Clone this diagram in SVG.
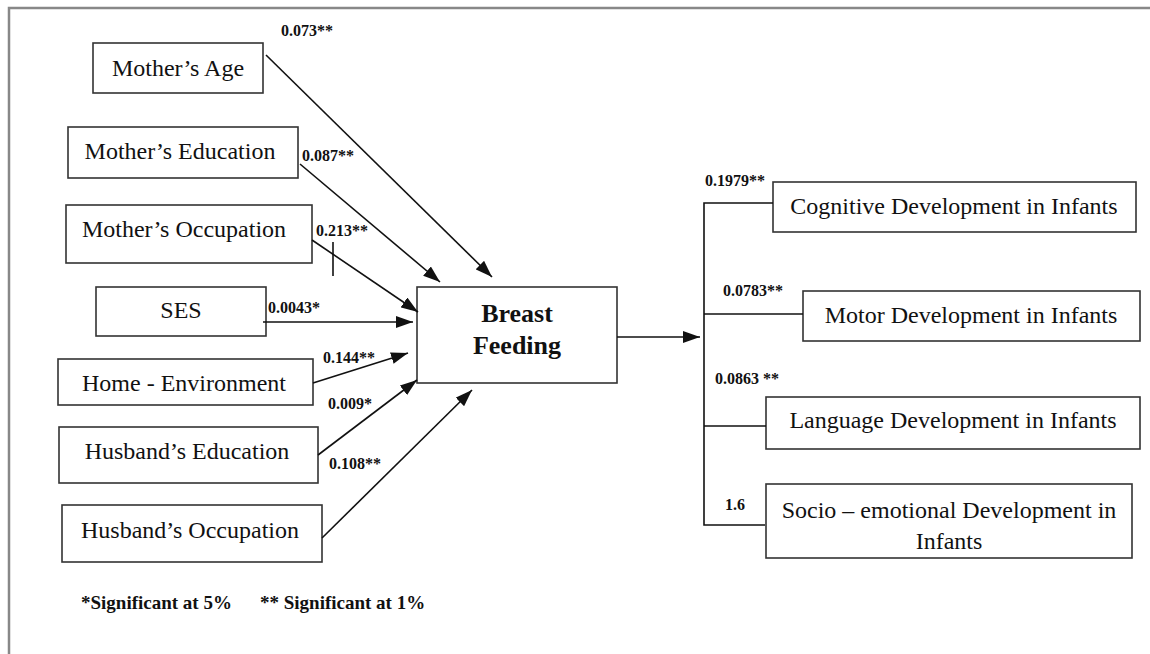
<svg xmlns="http://www.w3.org/2000/svg" width="1150" height="654" viewBox="0 0 1150 654">
<style>
.box{fill:#fff;stroke:#333;stroke-width:1.6}
.t{font-family:"Liberation Serif","Times New Roman",serif;font-size:24px;fill:#111;text-anchor:middle}
.b{font-family:"Liberation Serif","Times New Roman",serif;font-size:26px;font-weight:bold;fill:#111;text-anchor:middle}
.lab{font-family:"Liberation Serif","Times New Roman",serif;font-size:16px;font-weight:bold;fill:#111}
.fn{font-family:"Liberation Serif","Times New Roman",serif;font-size:19px;font-weight:bold;fill:#111}
.c{fill:none;stroke:#111;stroke-width:1.6}
</style>
<defs>
<marker id="ah" viewBox="0 0 10 10" refX="10" refY="5" markerWidth="17" markerHeight="12" markerUnits="userSpaceOnUse" orient="auto" preserveAspectRatio="none">
<path d="M0,0 L10,5 L0,10 z" fill="#111"/>
</marker>
</defs>
<rect width="1150" height="654" fill="#fff"/>
<path d="M9,654 V8 H1150" fill="none" stroke="#888" stroke-width="2.5"/>

<g id="n-mothers-age"><rect class="box" x="93" y="43" width="170" height="50"/><text class="t" x="178" y="76">Mother’s Age</text></g>
<g id="n-mothers-education"><rect class="box" x="68" y="127" width="230" height="51"/><text class="t" x="180" y="159">Mother’s Education</text></g>
<g id="n-mothers-occupation"><rect class="box" x="66" y="205" width="246" height="58"/><text class="t" x="184" y="237">Mother’s Occupation</text></g>
<g id="n-ses"><rect class="box" x="96" y="287" width="170" height="49"/><text class="t" x="181" y="318">SES</text></g>
<g id="n-home"><rect class="box" x="58" y="359" width="255" height="46"/><text class="t" x="184" y="391">Home - Environment</text></g>
<g id="n-husbands-education"><rect class="box" x="59" y="427" width="259" height="56"/><text class="t" x="187" y="459">Husband’s Education</text></g>
<g id="n-husbands-occupation"><rect class="box" x="62" y="505" width="260" height="57"/><text class="t" x="190" y="538">Husband’s Occupation</text></g>

<g id="n-breast-feeding"><rect class="box" x="417" y="287" width="200" height="96"/><text class="b" x="517" y="322">Breast</text><text class="b" x="517" y="354">Feeding</text></g>

<g id="n-cognitive"><rect class="box" x="773" y="182" width="363" height="50"/><text class="t" x="954" y="214">Cognitive Development in Infants</text></g>
<g id="n-motor"><rect class="box" x="803" y="291" width="337" height="50"/><text class="t" x="971" y="323">Motor Development in Infants</text></g>
<g id="n-language"><rect class="box" x="766" y="397" width="374" height="52"/><text class="t" x="953" y="428">Language Development in Infants</text></g>
<g id="n-socio"><rect class="box" x="766" y="484" width="366" height="74"/><text class="t" x="949" y="518">Socio – emotional Development in</text><text class="t" x="949" y="549">Infants</text></g>

<g id="connectors">
<line class="c" x1="266" y1="55" x2="492" y2="277" marker-end="url(#ah)"/>
<line class="c" x1="300" y1="164" x2="440" y2="282" marker-end="url(#ah)"/>
<line class="c" x1="312" y1="240" x2="418" y2="312" marker-end="url(#ah)"/>
<line class="c" x1="263" y1="322" x2="413" y2="322" marker-end="url(#ah)"/>
<line class="c" x1="313" y1="383" x2="408" y2="353" marker-end="url(#ah)"/>
<line class="c" x1="318" y1="455" x2="417" y2="380" marker-end="url(#ah)"/>
<line class="c" x1="322" y1="538" x2="472" y2="390" marker-end="url(#ah)"/>
<line class="c" x1="333" y1="242" x2="333" y2="276"/>
<line class="c" x1="617" y1="337" x2="700" y2="337" marker-end="url(#ah)"/>
<path class="c" d="M773,203 H704 V525 H765"/>
<line class="c" x1="704" y1="314" x2="803" y2="314"/>
<line class="c" x1="704" y1="426" x2="766" y2="426"/>
</g>

<g id="labels">
<text class="lab" x="281" y="36">0.073**</text>
<text class="lab" x="302" y="161">0.087**</text>
<text class="lab" x="316" y="236">0.213**</text>
<text class="lab" x="268" y="313">0.0043*</text>
<text class="lab" x="323" y="363">0.144**</text>
<text class="lab" x="328" y="409">0.009*</text>
<text class="lab" x="329" y="469">0.108**</text>
<text class="lab" x="705" y="186">0.1979**</text>
<text class="lab" x="723" y="296">0.0783**</text>
<text class="lab" x="715" y="384">0.0863 **</text>
<text class="lab" x="725" y="510">1.6</text>
<text class="fn" x="81" y="609">*Significant at 5%</text>
<text class="fn" x="260" y="609">** Significant at 1%</text>
</g>
</svg>
